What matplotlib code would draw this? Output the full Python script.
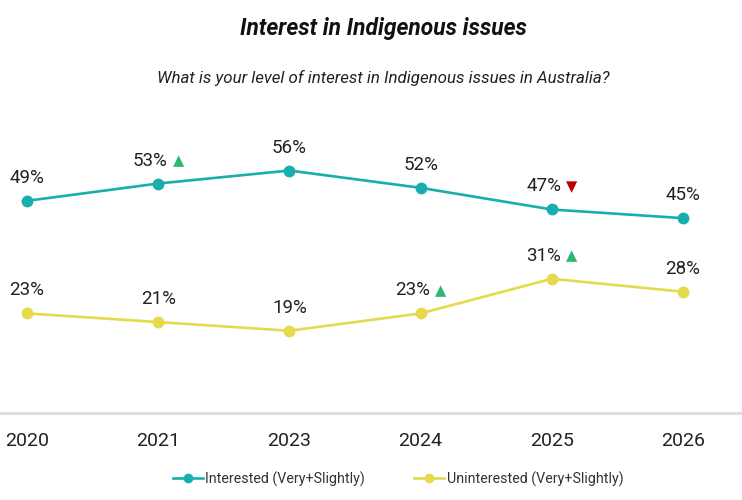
import matplotlib
matplotlib.use("Agg")
import matplotlib.pyplot as plt
from matplotlib.lines import Line2D

years = ["2020", "2021", "2023", "2024", "2025", "2026"]
interested = [49, 53, 56, 52, 47, 45]
uninterested = [23, 21, 19, 23, 31, 28]
# significance flags: 1 = up, -1 = down, 0 = none
interested_sig = [0, 1, 0, 0, -1, 0]
uninterested_sig = [0, 0, 0, 1, 1, 0]

title = "Interest in Indigenous issues"
subtitle = "What is your level of interest in Indigenous issues in Australia?"
labels = ["Interested (Very+Slightly)", "Uninterested (Very+Slightly)"]

teal = "#19AEAE"
yellow = "#E4DA4C"
up_col = "#2BB673"
down_col = "#C00000"

plt.rcParams['font.family'] = ['Roboto', 'DejaVu Sans']

fig = plt.figure(figsize=(7.42, 5.0), dpi=100)
ax = fig.add_axes([0.0, 1 - 413 / 500, 1.0, (413 - 120) / 500])

x = list(range(len(years)))
ax.set_xlim(-27 / 131.2, 5 + 59 / 131.2)
ax.set_ylim(0, 293 / 4.33)

for vals, col, sigs in [(interested, teal, interested_sig), (uninterested, yellow, uninterested_sig)]:
    ax.plot(x, vals, color=col, lw=1.9, marker='o', ms=7.5, zorder=3)
    for xi, v, s in zip(x, vals, sigs):
        if s == 0:
            ax.annotate(f"{v}%", (xi, v), xytext=(0, 23), textcoords='offset pixels',
                        ha='center', va='center', fontsize=13.5, color='#222222')
        else:
            ax.annotate(f"{v}%", (xi, v), xytext=(-8, 23), textcoords='offset pixels',
                        ha='center', va='center', fontsize=13.5, color='#222222')
            ax.annotate("▲" if s > 0 else "▼", (xi, v), xytext=(20, 23), textcoords='offset pixels',
                        ha='center', va='center', fontsize=10.5, family='DejaVu Sans',
                        color=up_col if s > 0 else down_col)

for sp in ['top', 'right', 'left']:
    ax.spines[sp].set_visible(False)
ax.spines['bottom'].set_color('#dddddd')
ax.spines['bottom'].set_linewidth(2)
ax.set_yticks([])
ax.set_xticks(x)
ax.set_xticklabels(years, fontsize=14, color='#222222')
ax.tick_params(axis='x', length=0, pad=14)

fig.text(383 / 742, 1 - 28 / 500, title, ha='center', va='center', fontsize=16.4,
         fontweight='bold', fontstyle='italic', color='#111111')
fig.text(383 / 742, 1 - 78 / 500, subtitle, ha='center', va='center', fontsize=12.2,
         fontstyle='italic', color='#222222')

handles = [Line2D([], [], color=teal, lw=1.9, marker='o', ms=6),
           Line2D([], [], color=yellow, lw=1.9, marker='o', ms=6)]
fig.legend(handles, labels, loc='center', bbox_to_anchor=(398 / 742, 1 - 479 / 500), ncol=2,
           frameon=False, fontsize=10.3, handlelength=2.1, handletextpad=0.2, columnspacing=3.4,
           labelcolor='#333333')

fig.savefig("out.png", dpi=100)
